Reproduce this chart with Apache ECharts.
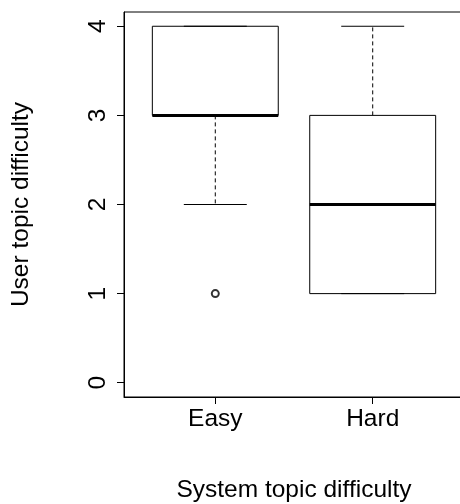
<!DOCTYPE html>
<html>
<head>
<meta charset="utf-8">
<script src="https://cdn.jsdelivr.net/npm/echarts@6/dist/echarts.min.js"></script>
<style>
html,body{margin:0;padding:0;background:#fff;}
#chart{width:460px;height:504px;}
</style>
</head>
<body>
<div id="chart"></div>
<script>
// Data
var categories = ['Easy', 'Hard'];
// [position, lowerWhisker, Q1, median, Q3, upperWhisker]
var boxEasy = [1, 2, 3, 3, 4, 4];
var boxHard = [2, 1, 1, 2, 3, 4];
var outliers = [[1, 1]];
var yTicks = [0, 1, 2, 3, 4];
var xTicks = [1, 2];

var FONT = '"Liberation Sans", Arial, Helvetica, sans-serif';

var chart = echarts.init(document.getElementById('chart'), null, {renderer: 'canvas'});

function renderBox(params, api) {
  var x = api.value(0);
  var lo = api.coord([x, api.value(1)]);
  var q1 = api.coord([x, api.value(2)]);
  var md = api.coord([x, api.value(3)]);
  var q3 = api.coord([x, api.value(4)]);
  var hi = api.coord([x, api.value(5)]);
  var bw = api.size([0.8, 0])[0];
  var cw = api.size([0.4, 0])[0];
  var cx = q1[0];
  var line = {stroke: '#000', lineWidth: 1, fill: null};
  var dashed = {stroke: '#000', lineWidth: 1, lineDash: [4, 3], fill: null};
  return {
    type: 'group',
    children: [
      {type: 'line', shape: {x1: cx, y1: q3[1], x2: cx, y2: hi[1]}, style: dashed},
      {type: 'line', shape: {x1: cx, y1: q1[1], x2: cx, y2: lo[1]}, style: dashed},
      {type: 'rect', shape: {x: cx - bw / 2, y: q3[1], width: bw, height: q1[1] - q3[1]}, style: {stroke: '#000', lineWidth: 1, fill: '#fff'}},
      {type: 'line', shape: {x1: cx - cw / 2, y1: hi[1], x2: cx + cw / 2, y2: hi[1]}, style: line},
      {type: 'line', shape: {x1: cx - cw / 2, y1: lo[1], x2: cx + cw / 2, y2: lo[1]}, style: line},
      {type: 'line', shape: {x1: cx - bw / 2, y1: md[1], x2: cx + bw / 2, y2: md[1]}, style: {stroke: '#000', lineWidth: 3}}
    ]
  };
}

var option = {
  animation: false,
  backgroundColor: '#fff',
  grid: {left: 124, top: 12, width: 340, height: 385, outerBoundsMode: 'none', containLabel: false,
    show: true, borderColor: '#000', borderWidth: 1, backgroundColor: 'transparent'},
  xAxis: {
    type: 'value', min: 0.42, max: 2.58,
    name: 'System topic difficulty', nameLocation: 'middle', nameGap: 81,
    nameTextStyle: {fontFamily: FONT, fontSize: 24.5, color: '#000'},
    axisLine: {show: true, onZero: false, lineStyle: {color: '#000', width: 1}},
    axisTick: {show: true, length: 7, customValues: xTicks, lineStyle: {color: '#000'}},
    axisLabel: {show: true, customValues: xTicks, margin: 10, fontFamily: FONT, fontSize: 24.5, color: '#000',
      formatter: function (v) { return categories[Math.round(v) - 1]; }},
    splitLine: {show: false}
  },
  yAxis: {
    type: 'value', min: -0.16, max: 4.16,
    name: 'User topic difficulty', nameLocation: 'middle', nameGap: 90,
    nameTextStyle: {fontFamily: FONT, fontSize: 24.5, color: '#000'},
    axisLine: {show: true, onZero: false, lineStyle: {color: '#000', width: 1}},
    axisTick: {show: true, length: 7, customValues: yTicks, lineStyle: {color: '#000'}},
    axisLabel: {show: true, customValues: yTicks, rotate: 90, margin: 13, fontFamily: FONT, fontSize: 24.5, color: '#000'},
    splitLine: {show: false}
  },
  series: [
    {
      type: 'custom',
      renderItem: renderBox,
      data: [boxEasy, boxHard],
      encode: {x: 0, y: [1, 2, 3, 4, 5]},
      z: 2
    },
    {
      type: 'scatter',
      data: outliers,
      symbol: 'emptyCircle',
      symbolSize: 7,
      itemStyle: {color: '#000', borderColor: '#000', borderWidth: 1},
      z: 3
    }
  ]
};
chart.setOption(option);
</script>
</body>
</html>
